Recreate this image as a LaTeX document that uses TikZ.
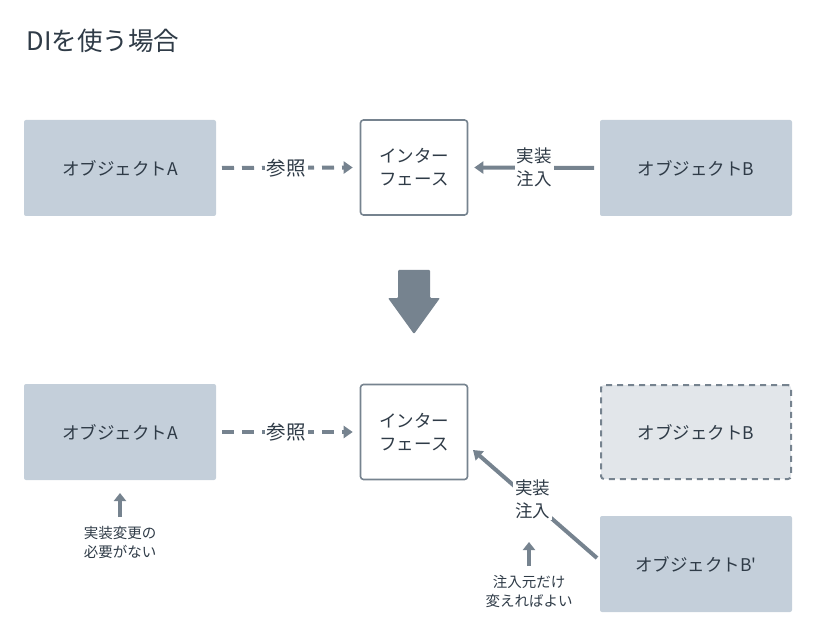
\documentclass[tikz,border=0pt]{standalone}
\usepackage{fontspec}
\setmainfont{Noto Sans CJK JP}
\usetikzlibrary{arrows.meta}
\definecolor{boxfill}{HTML}{C4CFDA}
\definecolor{ghostfill}{HTML}{E2E6EA}
\definecolor{linec}{HTML}{76838F}
\definecolor{txt}{HTML}{2F3B47}
\tikzset{
  x=1pt,y=-1pt,
  every node/.style={text=txt,font=\fontsize{17.5}{23}\selectfont},
  objbox/.style={fill=boxfill,rounded corners=2pt,minimum width=192pt,minimum height=96pt,inner sep=0pt},
  ghostbox/.style={fill=ghostfill,draw=linec,line width=2pt,dash pattern=on 6pt off 5pt,rounded corners=3pt,minimum width=190pt,minimum height=94pt,inner sep=0pt},
  ifbox/.style={fill=white,draw=linec,line width=1.6pt,rounded corners=3pt,minimum width=107pt,minimum height=95pt,align=center,inner sep=0pt},
  conn/.style={draw=linec,line width=4pt,-{Triangle[length=9pt,width=12pt]}},
  dashconn/.style={conn,dash pattern=on 12pt off 8pt},
  lab/.style={fill=white,inner sep=2pt,align=center},
  reflab/.style={lab,font=\fontsize{19.5}{24}\selectfont},
  note/.style={align=center,font=\fontsize{14.5}{19}\selectfont},
  smallup/.style={draw=linec,line width=4pt,-{Triangle[length=8pt,width=12pt]}}
}
\begin{document}
\begin{tikzpicture}
\useasboundingbox (0,0) rectangle (816,636);
\node[anchor=base west,font=\fontsize{25.5}{30}\selectfont] (title) at (23,51) {DIを使う場合};
% top row
\node[objbox] (a1) at (120,168) {オブジェクトA};
\node[ifbox] (i1) at (414,167.5) {インター\\フェース};
\node[objbox] (b1) at (696,168) {オブジェクトB};
\coordinate (a1e) at (222,168);
\coordinate (b1e) at (594,168);
\draw[dashconn] (a1e) -- ([xshift=-7pt]i1.west) node[reflab,midway,xshift=-1pt] (l1) {参照};
\draw[conn] (b1e) -- ([xshift=6pt]i1.east) node[lab,midway] (l2) {実装\\注入};
% big arrow
\fill[linec,rounded corners=1pt] (398,270) -- (430,270) -- (430,298) -- (440,298) -- (414,334) -- (388,298) -- (398,298) -- cycle;
% bottom row
\node[objbox] (a2) at (120,432) {オブジェクトA};
\node[ifbox] (i2) at (414,432) {インター\\フェース};
\node[ghostbox] (b2) at (696,432) {オブジェクトB};
\node[objbox] (b3) at (696,564) {オブジェクトB\textquotesingle};
\coordinate (a2e) at (222,432);
\draw[dashconn] (a2e) -- ([xshift=-7pt]i2.west) node[reflab,midway,xshift=-1pt] (l3) {参照};
\coordinate (b3s) at (597,558);
\coordinate (i2t) at (473,450);
\draw[conn] (b3s) -- (i2t) node[lab,pos=0.52,yshift=3pt] (l4) {実装\\注入};
% notes
\coordinate (n1s) at (120,517);
\coordinate (n1e) at (120,493);
\draw[smallup] (n1s) -- (n1e);
\node[note] (n1) at (120,543) {実装変更の\\必要がない};
\coordinate (n2s) at (529,566);
\coordinate (n2e) at (529,542);
\draw[smallup] (n2s) -- (n2e);
\node[note] (n2) at (529,591) {注入元だけ\\変えればよい};
\end{tikzpicture}
\end{document}
